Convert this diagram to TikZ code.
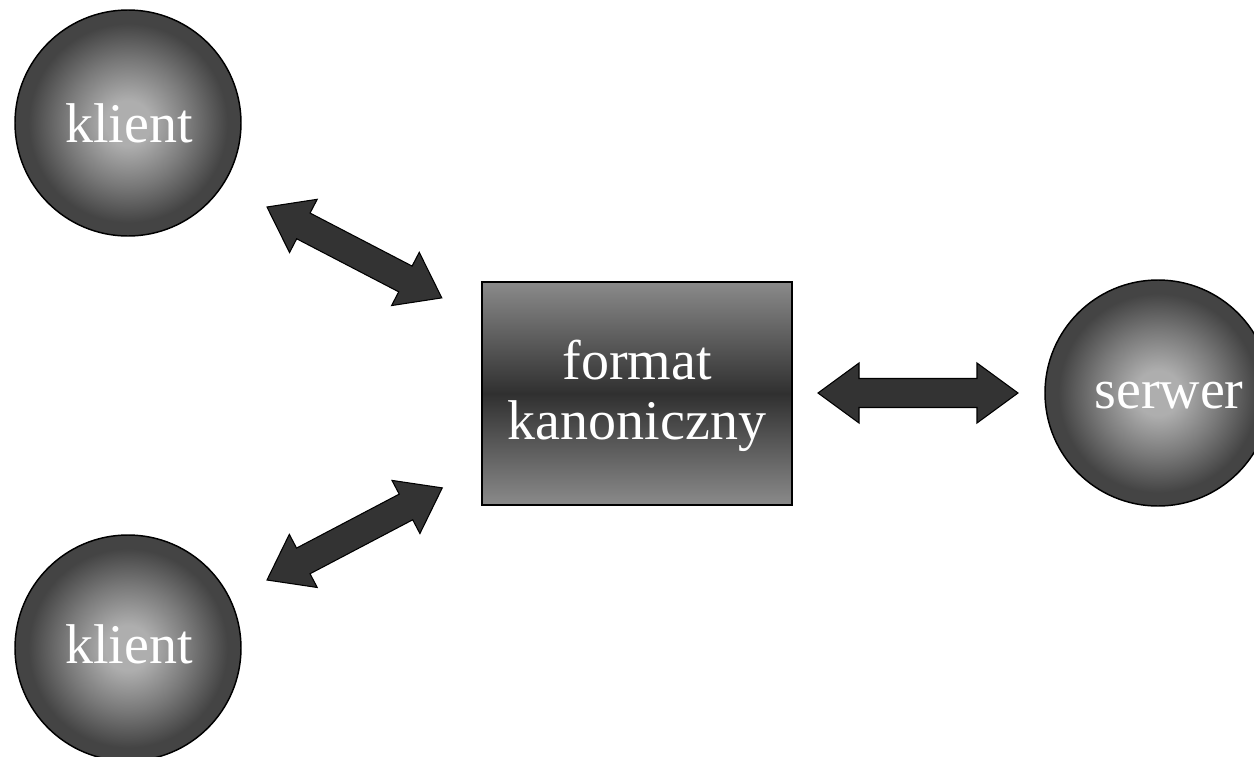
\documentclass[tikz,border=0pt]{standalone}
\usepackage{fontspec}
\setmainfont{Liberation Serif}
\definecolor{ballin}{RGB}{174,174,174}
\definecolor{ballmid}{RGB}{120,120,120}
\definecolor{ballout}{RGB}{68,68,68}
\definecolor{boxedge}{RGB}{138,138,138}
\definecolor{boxmid}{RGB}{48,48,48}
\definecolor{arrowfill}{RGB}{51,51,51}
\pgfdeclareradialshading{ballshade}{\pgfpoint{0bp}{0bp}}{color(0bp)=(ballin); color(5bp)=(ballin); color(14bp)=(ballmid); color(22bp)=(ballout); color(25bp)=(ballout); color(50bp)=(ballout)}
\tikzset{
  ballnode/.style={circle, draw=black, line width=1.1pt, minimum size=169.5pt, inner sep=0pt, shading=ballshade},
  canonbox/.style={rectangle, draw=black, line width=1.1pt, minimum width=232.5pt, minimum height=167.25pt, inner sep=0pt, shading=axis, top color=boxedge, bottom color=boxedge, middle color=boxmid},
  whitetext/.style={text=white, font=\fontsize{42}{45}\selectfont, inner sep=0pt},
  arrowshape/.style={draw=black, line width=0.8pt, fill=arrowfill, line join=miter},
  pics/dblarrow/.style={code={
    \draw[arrowshape] (0,0) -- (41,30) -- (41,14.5) -- ({#1-41},14.5) -- ({#1-41},30) -- (#1,0) -- ({#1-41},-30) -- ({#1-41},-14.5) -- (41,-14.5) -- (41,-30) -- cycle;
  }},
}
\begin{document}
\begin{tikzpicture}[x=0.75pt,y=0.75pt]
\useasboundingbox (0,0) rectangle (1254,-757);
\clip (0,0) rectangle (1254,-757);
\fill[white] (0,0) rectangle (1254,-757);

\node[ballnode] (k1) at (128,-123) {};
\node[whitetext, anchor=base] (k1t) at (129,-142) {klient};

\node[ballnode] (k2) at (128,-648) {};
\node[whitetext, anchor=base] (k2t) at (129,-663) {klient};

\node[ballnode] (srv) at (1158,-393) {};
\node[whitetext, anchor=base] (srvt) at (1169,-408) {serwer};

\node[canonbox] (fk) at (637,-393.5) {};
\node[whitetext, align=center] (fkt) at (637,-396) {format\\kanoniczny};

\coordinate (a1s) at (267,-207);
\coordinate (a2s) at (267,-580);
\coordinate (a3s) at (818,-393);
\pic[rotate=-27.47] at (a1s) {dblarrow=197};
\pic[rotate=27.73] at (a2s) {dblarrow=198};
\pic at (a3s) {dblarrow=200};
\end{tikzpicture}
\end{document}
